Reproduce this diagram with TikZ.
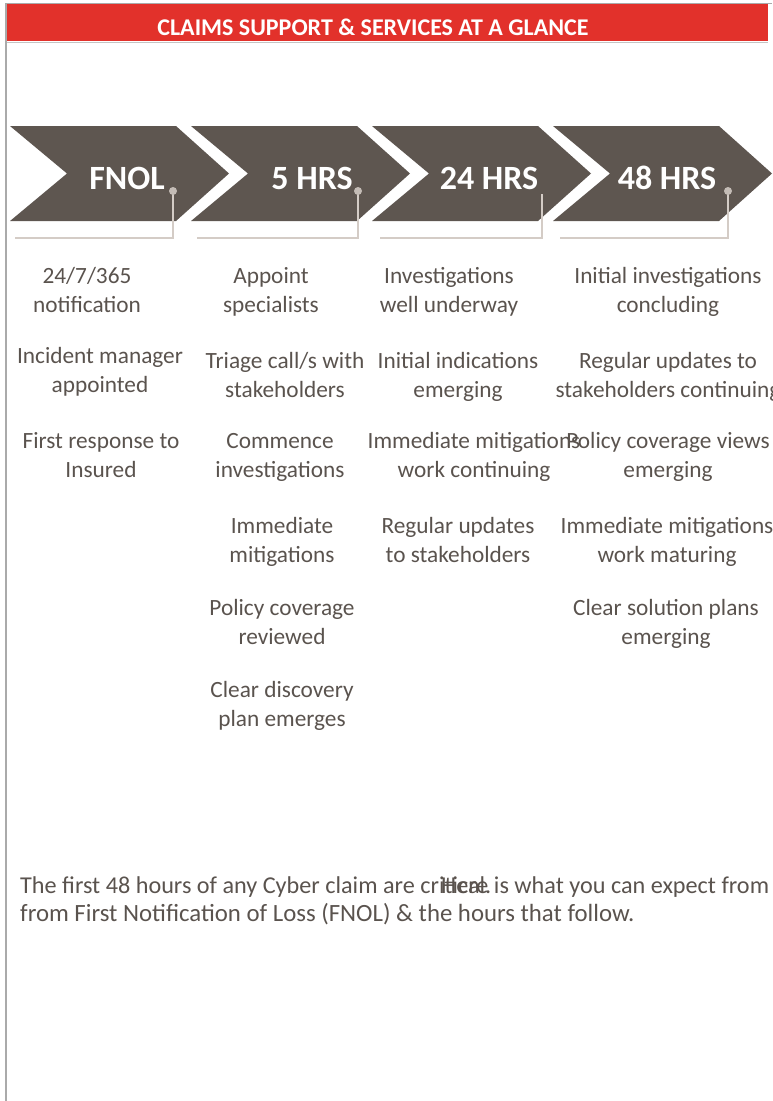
\documentclass[tikz,border=0pt]{standalone}
\usepackage{fontspec}
\setmainfont{Carlito}
\definecolor{bannerred}{RGB}{226,49,43}
\definecolor{framegrey}{RGB}{170,170,170}
\definecolor{chevfill}{RGB}{94,86,80}
\definecolor{textgrey}{RGB}{90,83,78}
\definecolor{leadgrey}{RGB}{212,204,198}
\definecolor{dotgrey}{RGB}{196,188,182}
\tikzset{
  chevron/.style={fill=chevfill, draw=none},
  chevlabel/.style={font=\bfseries\fontsize{34}{40}\selectfont, text=white, anchor=base, inner sep=0pt},
  banner/.style={font=\bfseries\fontsize{24}{28}\selectfont, text=white, anchor=base, inner sep=0pt},
  % multi-line items: the base anchor sits on the last line's baseline
  item/.style={font=\fontsize{23.3}{28.8}\selectfont, text=textgrey, align=center, anchor=base, inner sep=0pt},
  note/.style={font=\fontsize{24.2}{28}\selectfont, text=textgrey, anchor=base west, inner sep=0pt},
  leader/.style={draw=leadgrey, line width=2pt},
  leaddot/.style={circle, fill=dotgrey, minimum size=8pt, inner sep=0pt},
}
\begin{document}
\begin{tikzpicture}[x=1pt, y=-1pt]
\useasboundingbox (0,0) rectangle (772,1101);
\clip (0,0) rectangle (772,1101);

% page frame and title banner
\fill[bannerred] (7,4) rectangle (768,41);
\draw[framegrey, line width=1pt] (6,3) -- (772,3);
\draw[framegrey, line width=1.2pt] (6,3) -- (6,1101);
\draw[framegrey!70, line width=0.8pt] (7,42) -- (768,42);
\node[banner] (title) at (373,35) {CLAIMS SUPPORT \& SERVICES AT A GLANCE};

% process chevrons
\foreach \L in {10,191,372,553}
  \fill[chevron] (\L,126) -- ++(166,0) -- ++(53,47.5) -- ++(-53,47.5)
                 -- ++(-166,0) -- ++(57,-47.5) -- cycle;

\node[chevlabel] (fnol) at (127,189) {FNOL};
\node[chevlabel] (h5)   at (312,189) {5 HRS};
\node[chevlabel] (h24)  at (489,189) {24 HRS};
\node[chevlabel] (h48)  at (667,189) {48 HRS};

% leader lines under each stage
\coordinate (d1) at (173,191); \coordinate (c1) at (173,238); \coordinate (e1) at (15,238);
\coordinate (d2) at (358,191); \coordinate (c2) at (358,238); \coordinate (e2) at (197,238);
\coordinate (d3) at (542,194); \coordinate (c3) at (542,238); \coordinate (e3) at (380,238);
\coordinate (d4) at (728,191); \coordinate (c4) at (728,238); \coordinate (e4) at (560,238);
\foreach \i in {1,2,3,4}
  \draw[leader] (d\i) -- (c\i) -- (e\i);
\node[leaddot] (dot1) at (d1) {};
\node[leaddot] (dot2) at (d2) {};
\node[leaddot] (dot4) at (d4) {};

% FNOL column
\node[item] (a1) at (87,312)  {24/7/365\\notification};
\node[item] (a2) at (100,392) {Incident manager\\appointed};
\node[item] (a3) at (101,477) {First response to\\Insured};

% 5 HRS column
\node[item] (b1) at (271,312) {Appoint\\specialists};
\node[item] (b2) at (285,397) {Triage call/s with\\stakeholders};
\node[item] (b3) at (280,477) {Commence\\investigations};
\node[item] (b4) at (282,562) {Immediate\\mitigations};
\node[item] (b5) at (282,644) {Policy coverage\\reviewed};
\node[item] (b6) at (282,726) {Clear discovery\\plan emerges};

% 24 HRS column
\node[item] (c1n) at (449,312) {Investigations\\well underway};
\node[item] (c2n) at (458,397) {Initial indications\\emerging};
\node[item] (c3n) at (474,477) {Immediate mitigations\\work continuing};
\node[item] (c4n) at (458,562) {Regular updates\\to stakeholders};

% 48 HRS column
\node[item] (e1n) at (668,312) {Initial investigations\\concluding};
\node[item] (e2n) at (668,397) {Regular updates to\\stakeholders continuing};
\node[item] (e3n) at (668,477) {Policy coverage views\\emerging};
\node[item] (e4n) at (667,562) {Immediate mitigations\\work maturing};
\node[item] (e5n) at (666,644) {Clear solution plans\\emerging};

% closing note
\node[note] (n1) at (20,893)  {The first 48 hours of any Cyber claim are critical.};
\node[note] (n2) at (441,893) {Here is what you can expect from};
\node[note, font=\fontsize{24.8}{28}\selectfont] (n3) at (20,921)
  {from First Notification of Loss (FNOL) \& the hours that follow.};
\end{tikzpicture}
\end{document}
